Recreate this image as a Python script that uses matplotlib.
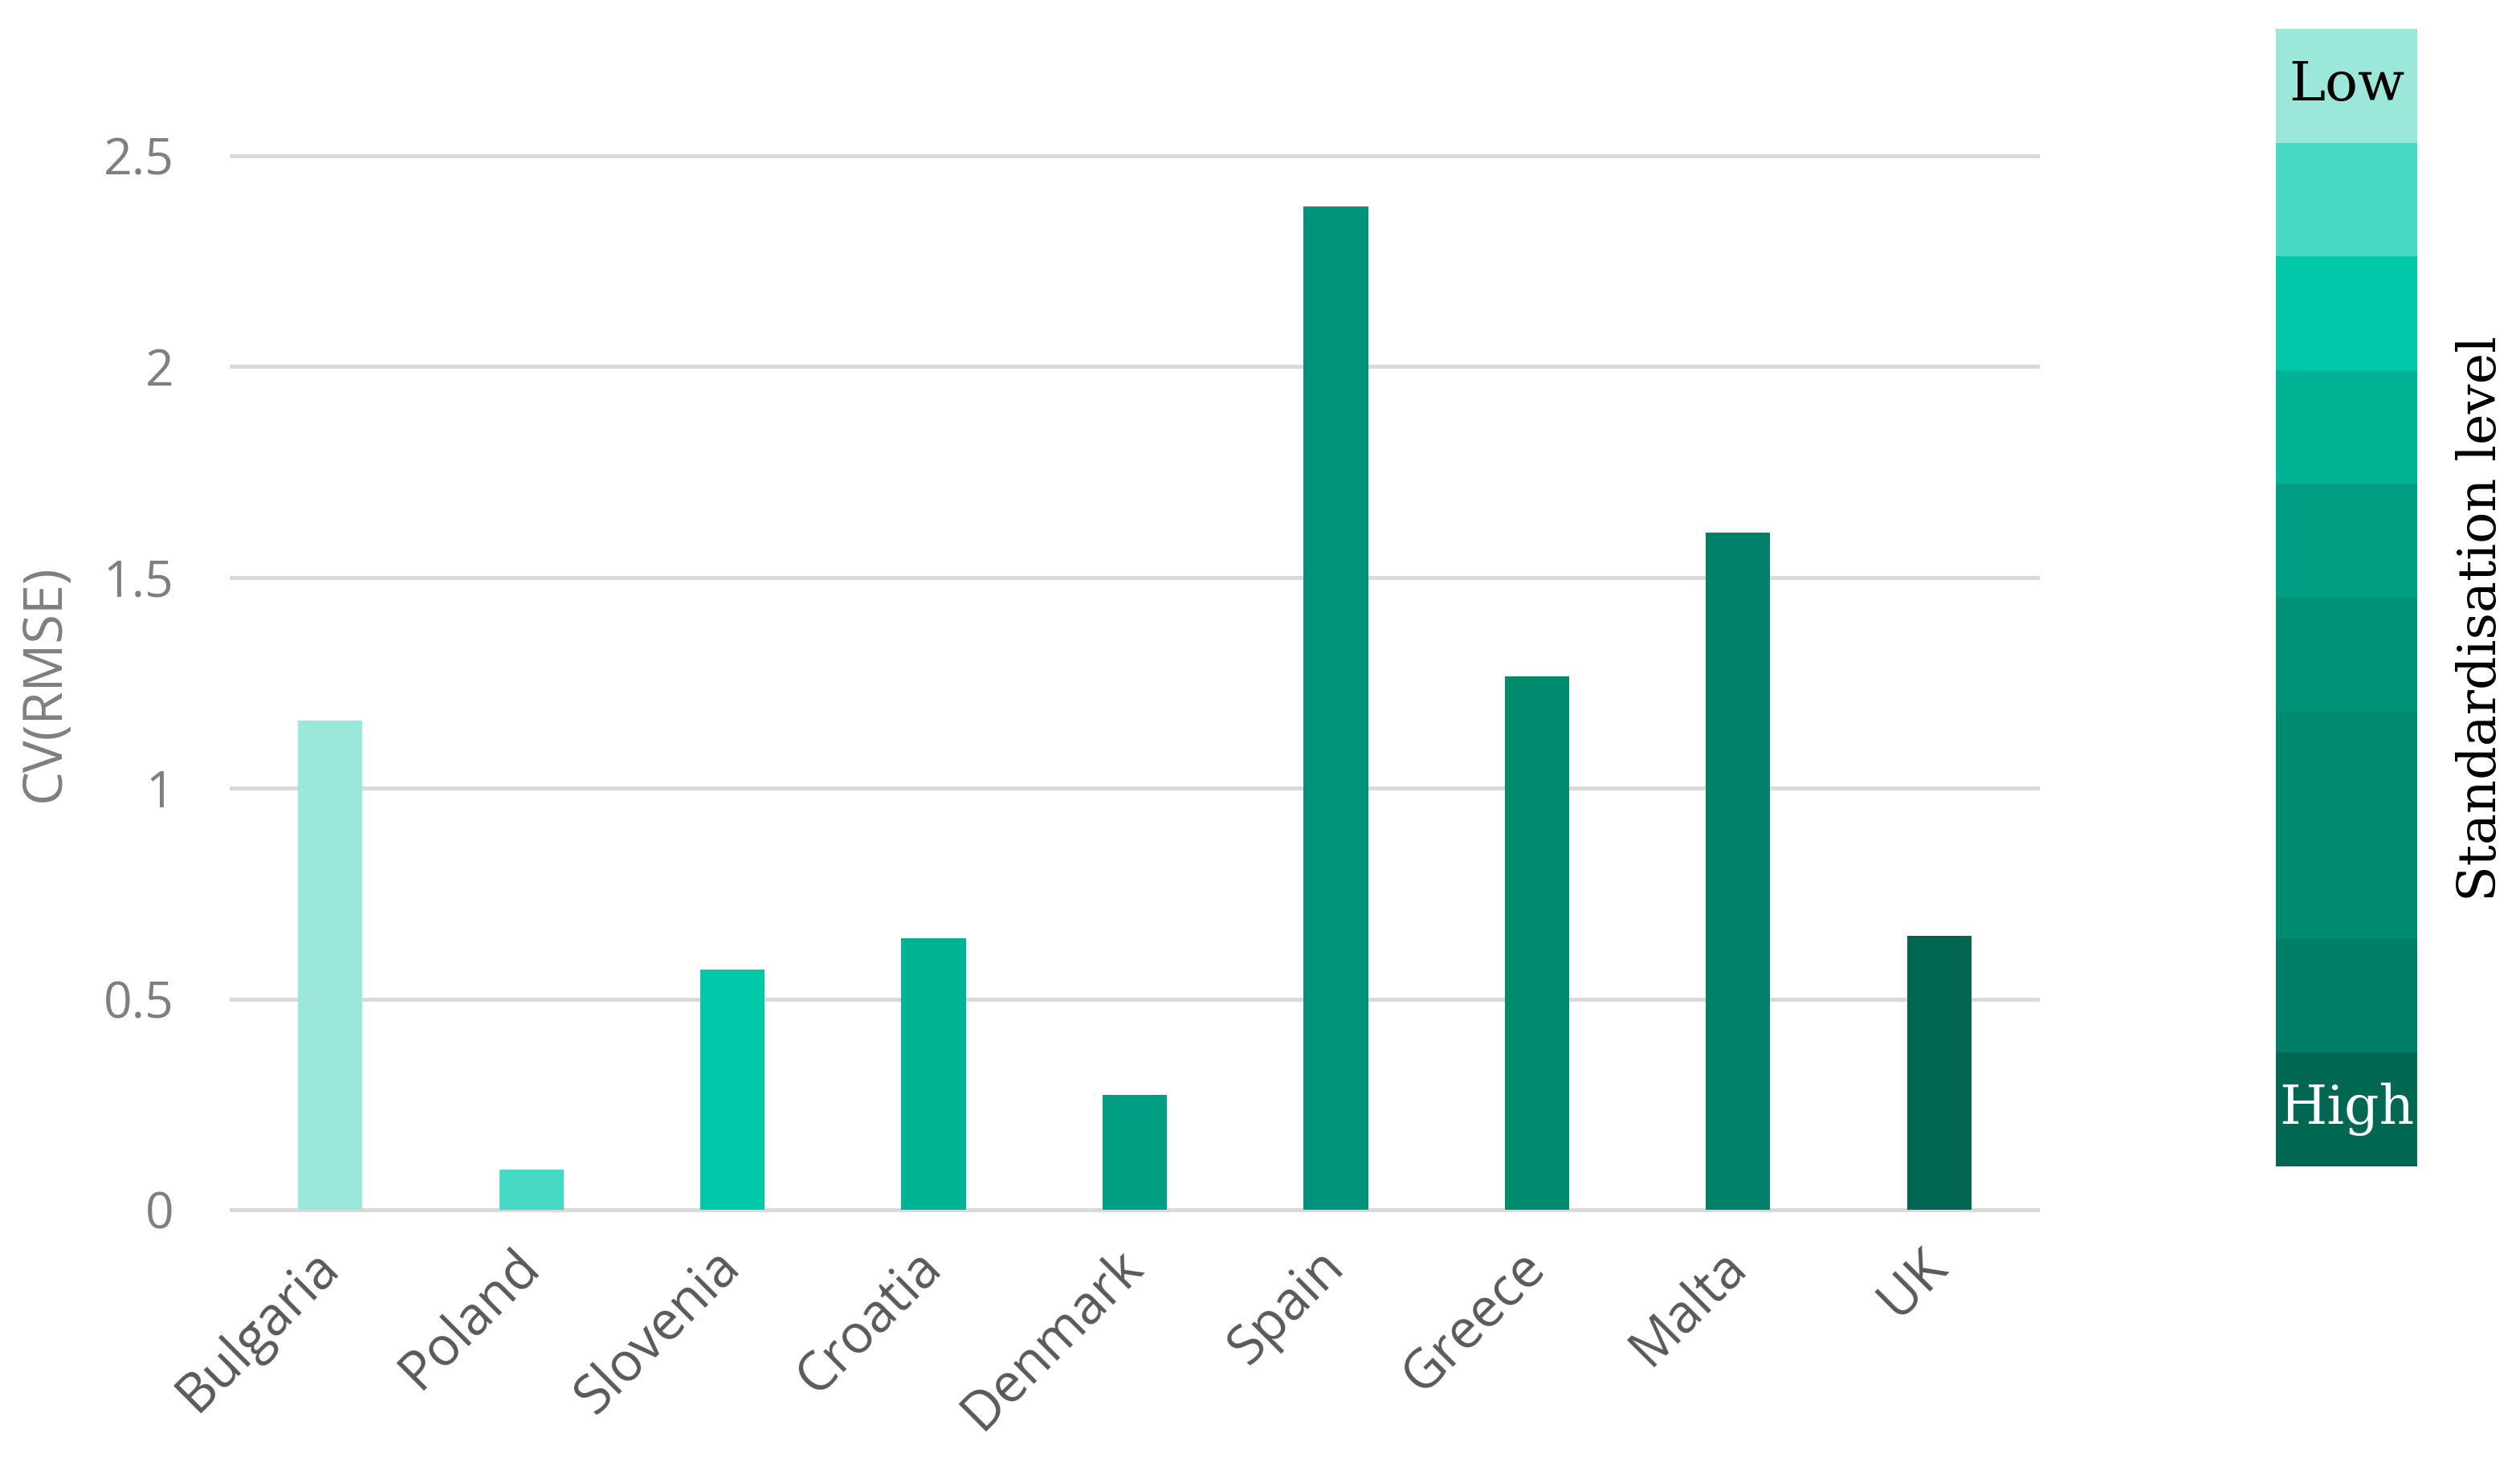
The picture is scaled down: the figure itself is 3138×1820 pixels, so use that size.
import matplotlib
matplotlib.use("Agg")
import matplotlib.pyplot as plt
from matplotlib.ticker import FuncFormatter

countries = ["Bulgaria", "Poland", "Slovenia", "Croatia", "Denmark", "Spain", "Greece", "Malta", "UK"]
cv_rmse = [1.16, 0.095, 0.57, 0.645, 0.272, 2.38, 1.265, 1.607, 0.65]
bar_colors = ["#9be7d9", "#46d9c3", "#00c8a8", "#00b394", "#009e83",
              "#00927a", "#008b6e", "#008069", "#006652"]
y_ticks = [0, 0.5, 1, 1.5, 2, 2.5]
legend_colors = ["#9be7d9", "#46d9c3", "#00c8a8", "#00b394", "#009e83",
                 "#009276", "#008b6e", "#008b6e", "#007e68", "#006852"]

W, H, DPI = 3138, 1820, 200
fig = plt.figure(figsize=(W / DPI, H / DPI), dpi=DPI)

# main axes
ymin, ymax = -0.01, 2.51
ppu = (1506 - 194) / 2.5
bot_px = 1506 + (0 - ymin) * ppu
top_px = 194 - (ymax - 2.5) * ppu
ax = fig.add_axes([286 / W, 1 - bot_px / H, (2540 - 286) / W, (bot_px - top_px) / H])
x = list(range(len(countries)))
ax.bar(x, cv_rmse, width=0.32, color=bar_colors, zorder=3)
ax.set_xlim(-0.5, len(countries) - 0.5)
ax.set_ylim(ymin, ymax)
ax.set_yticks(y_ticks)
ax.yaxis.set_major_formatter(FuncFormatter(lambda v, p: f"{v:g}"))
ax.grid(axis="y", color="#d9d9d9", linewidth=1.8, zorder=0)
ax.grid(axis="x", visible=False)
for s in ax.spines.values():
    s.set_visible(False)
ax.tick_params(axis="y", length=0, pad=25, labelsize=22.5, labelcolor="#7f7f7f")
ax.tick_params(axis="x", length=0, pad=20)
ax.set_xticks(x)
ax.set_xticklabels(countries, rotation=45, ha="right", va="center",
                   rotation_mode="anchor", fontsize=24, color="#595959",
                   family="Open Sans")
for lbl in ax.get_yticklabels():
    lbl.set_family("Open Sans")
ax.set_ylabel("CV(RMSE)", fontsize=24, color="#7f7f7f", family="Open Sans")
ax.yaxis.set_label_coords(-(286 - 90) / (2540 - 286), 0.5)

# legend color scale
lax = fig.add_axes([2834 / W, 1 - 1452 / H, 176 / W, (1452 - 36) / H])
n = len(legend_colors)
lax.bar([0] * n, [1] * n, bottom=list(range(n)), width=1, color=legend_colors)
lax.set_xlim(-0.5, 0.5)
lax.set_ylim(n, 0)
lax.axis("off")
lax.text(0, 0.5, "Low", ha="center", va="center", fontsize=24.5, color="black",
         family="DejaVu Serif")
lax.text(0, n - 0.5, "High", ha="center", va="center", fontsize=24.5, color="white",
         family="DejaVu Serif")
fig.text(3090 / W, 1 - 770 / H, "Standardisation level", rotation=90,
         ha="center", va="center", fontsize=23.5, family="DejaVu Serif", color="black")

fig.savefig("out.png", dpi=DPI, facecolor="white")
